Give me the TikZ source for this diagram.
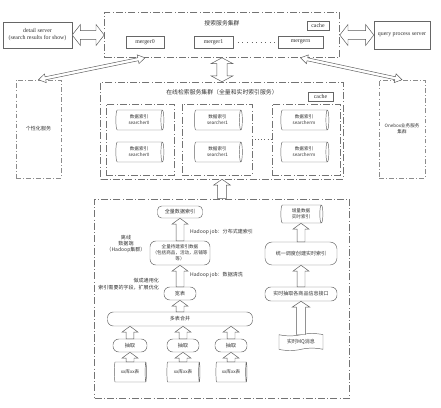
\documentclass[tikz,border=0pt]{standalone}
\usepackage{fontspec}
\usepackage{tikz}
\usetikzlibrary{shapes.geometric,shapes.symbols,calc}
\setmainfont{Liberation Serif}
\newfontfamily\cjk{Noto Sans CJK SC}
\newlength\pxu
\setlength\pxu{0.03cm}
\newcommand\cnfont{\cjk\fontsize{4.3}{5.4}\selectfont}
\newcommand\cnsmall{\cjk\fontsize{3.9}{5}\selectfont}
\newcommand\cnbig{\cjk\fontsize{5}{6}\selectfont}
\newcommand\enfont{\fontsize{5}{6}\selectfont}

\begin{document}
\begin{tikzpicture}[x=0.03cm, y=-0.03cm, text=black!80,
  box/.style={draw=black!60, fill=white, line width=0.4pt, inner sep=0pt, align=center},
  rbox/.style={box, rounded corners=3.5pt},
  cluster/.style={draw=black!55, line width=0.5pt, dash pattern=on 6pt off 2pt on 0.6pt off 2pt, inner sep=0pt},
  side/.style={draw=black!45, line width=0.5pt, dash pattern=on 4pt off 2pt on 0.6pt off 2pt, inner sep=0pt, align=center},
  dbstore/.style={box, cylinder, shape aspect=0.3},
  msg/.style={box, tape, tape bend height=2pt},
  arrowshaft/.store in=\arrS, arrowhead/.store in=\arrW, arrowlen/.store in=\arrL,
  arrowshaft=3.4pt, arrowhead=6.8pt, arrowlen=5pt,
  fat/.style={draw=black!65, fill=white, line width=0.4pt,
    to path={let \p1=(\tikztostart), \p2=(\tikztotarget),
      \n1={atan2(\y2-\y1,\x2-\x1)}, \n2={veclen(\x2-\x1,\y2-\y1)} in
      [shift={(\p1)}, rotate=\n1]
      (0pt,-\arrS) -- ({\n2*1pt-\arrL},-\arrS) -- ({\n2*1pt-\arrL},-\arrW) -- ({\n2*1pt},0pt)
      -- ({\n2*1pt-\arrL},\arrW) -- ({\n2*1pt-\arrL},\arrS) -- (0pt,\arrS) -- cycle}},
  fatboth/.style={draw=black!65, fill=white, line width=0.4pt,
    to path={let \p1=(\tikztostart), \p2=(\tikztotarget),
      \n1={atan2(\y2-\y1,\x2-\x1)}, \n2={veclen(\x2-\x1,\y2-\y1)} in
      [shift={(\p1)}, rotate=\n1]
      (0pt,0pt) -- (\arrL,\arrW) -- (\arrL,\arrS) -- ({\n2*1pt-\arrL},\arrS) -- ({\n2*1pt-\arrL},\arrW)
      -- ({\n2*1pt},0pt) -- ({\n2*1pt-\arrL},-\arrW) -- ({\n2*1pt-\arrL},-\arrS) -- (\arrL,-\arrS)
      -- (\arrL,-\arrW) -- cycle}}]
\useasboundingbox (0,0) rectangle (441,407);
  % Search Service Cluster
  \node[cluster, minimum width=235\pxu, minimum height=45\pxu] (topc) at (222,35) {};
  \node[font=\cnbig] (toptitle) at (222,23) {搜索服务集群};
  \node[box, font=\enfont, minimum width=22\pxu, minimum height=9\pxu] (cache1) at (318,25.5) {cache};
  \node[box, font=\enfont, minimum width=38\pxu, minimum height=12\pxu] (merger0) at (145,42) {merger0};
  \node[box, font=\enfont, minimum width=39\pxu, minimum height=12\pxu] (merger1) at (213.5,42) {merger1};
  \node[box, font=\enfont, minimum width=45\pxu, minimum height=12\pxu] (mergern) at (300.5,42) {mergern};
  \draw[black!60, line width=0.7pt, dash pattern=on 0.7pt off 3.2pt] (merger1.east) -- (mergern.west);
  % Outside Servers
  \node[box, font=\enfont, minimum width=69\pxu, minimum height=26\pxu] (detail) at (37.5,35) {detail server\\(search results for show)};
  \node[box, font=\enfont, minimum width=56\pxu, minimum height=28\pxu] (query) at (402,35) {query process server};
  \node[side, font=\cnfont, minimum width=45\pxu, minimum height=98\pxu] (personal) at (38.5,129) {个性化服务};
  \node[side, font=\cnsmall, minimum width=46\pxu, minimum height=98\pxu] (onebox) at (402,129) {Onebox业务服务\\集群};
  % Arrows to Outside Servers
  \draw[fatboth, arrowshaft=3.8pt, arrowhead=9pt, arrowlen=7pt] (detail.east) to (topc.west);
  \draw[fatboth, arrowshaft=3.8pt, arrowhead=9pt, arrowlen=7pt] (topc.east) to (query.west);
  \coordinate (foot0) at (topc.south -| merger0.south);
  \coordinate (footn) at (topc.south -| mergern.south);
  \draw[fatboth, arrowshaft=1.3pt, arrowhead=3.8pt, arrowlen=6pt] (personal.north) to (foot0);
  \draw[fatboth, arrowshaft=1.3pt, arrowhead=3.8pt, arrowlen=6pt] (onebox.north) to (footn);
  % Online Search Cluster
  \node[cluster, minimum width=243\pxu, minimum height=97\pxu] (onlinec) at (222,130.5) {};
  \node[font=\cnbig] (onlinetitle) at (222,92) {在线检索服务集群（全量和实时索引服务）};
  \node[box, font=\enfont, minimum width=25\pxu, minimum height=9\pxu] (cache2) at (320.5,96.5) {cache};
  \node[cluster, minimum width=68\pxu, minimum height=71\pxu] (group0) at (140,139.5) {};
  \node[cluster, minimum width=70\pxu, minimum height=71\pxu] (group1) at (217,139.5) {};
  \node[cluster, minimum width=68\pxu, minimum height=71\pxu] (groupm) at (306,139.5) {};
  \draw[black!60, line width=0.6pt, dash pattern=on 0.6pt off 2pt] (group1.east) -- (groupm.west);
  \node[dbstore, font=\cnsmall, minimum height=48\pxu, minimum width=20\pxu] (idx0) at (139,120) {数据索引\\searcher0};
  \node[dbstore, font=\cnsmall, minimum height=48\pxu, minimum width=20\pxu] (idx1) at (217.5,120) {数据索引\\searcher1};
  \node[dbstore, font=\cnsmall, minimum height=48\pxu, minimum width=20\pxu] (idxm) at (304,120) {数据索引\\searcherm};
  \node[dbstore, font=\cnsmall, minimum height=48\pxu, minimum width=20\pxu] (rep0) at (139,152) {数据索引\\searcher0};
  \node[dbstore, font=\cnsmall, minimum height=48\pxu, minimum width=20\pxu] (rep1) at (217.5,152) {数据索引\\searcher1};
  \node[dbstore, font=\cnsmall, minimum height=48\pxu, minimum width=20\pxu] (repm) at (304,152) {数据索引\\searcherm};
  \draw[fatboth, arrowshaft=4.3pt, arrowhead=9.4pt, arrowlen=5pt] (onlinec.north) to (topc.south);
  % Offline Data Cluster
  \node[cluster, minimum width=255\pxu, minimum height=199\pxu] (offc) at (222,298.5) {};
  \node[font=\cnfont, align=center] (offtitle) at (126,244) {离线\\数据端\\（Hadoop集群）};
  \draw[fat, arrowshaft=3.8pt, arrowhead=7.2pt] (offc.north) to (onlinec.south);
  % Full Index Chain
  \node[rbox, font=\cnfont, minimum width=45\pxu, minimum height=12\pxu] (fullidx) at (180,212) {全量数据索引};
  \node[rbox, rounded corners=5pt, font=\cnsmall, minimum width=60\pxu, minimum height=24\pxu] (fulldata) at (180,253) {全量待建索引数据\\（包括商品，活动，店铺等\\等）};
  \node[rbox, rounded corners=5pt, font=\cnfont, minimum width=32\pxu, minimum height=13\pxu] (widetab) at (180,293.5) {宽表};
  \node[rbox, rounded corners=5pt, font=\cnfont, minimum width=145\pxu, minimum height=14\pxu] (merge) at (180,319) {多表合并};
  \node[font=\cnfont, anchor=west] (job1) at (186,232) {Hadoop job：分布式建索引};
  \node[font=\cnfont, anchor=west] (job2) at (186,275) {Hadoop job：数据清洗};
  \node[font=\cnfont, anchor=east, align=right] (widenote) at (163,284) {做成通用化\\索引需要的字段，扩展优化};
  \draw[fat] (fulldata.north) to (fullidx.south);
  \draw[fat] (widetab.north) to (fulldata.south);
  \draw[fat] (merge.north) to (widetab.south);
  % Source Tables
  \node[rbox, rounded corners=5pt, font=\cnfont, minimum width=34\pxu, minimum height=13\pxu] (extract0) at (130,345.5) {抽取};
  \node[rbox, rounded corners=5pt, font=\cnfont, minimum width=32\pxu, minimum height=13\pxu] (extract1) at (183,345.5) {抽取};
  \node[rbox, rounded corners=5pt, font=\cnfont, minimum width=32\pxu, minimum height=13\pxu] (extract2) at (231,345.5) {抽取};
  \node[dbstore, font=\cnsmall, minimum height=32\pxu, minimum width=20\pxu] (table0) at (130,372) {xx库xx表};
  \node[dbstore, font=\cnsmall, minimum height=33\pxu, minimum width=20\pxu] (table1) at (183,372) {xx库xx表};
  \node[dbstore, font=\cnsmall, minimum height=31\pxu, minimum width=20\pxu] (table2) at (231,372) {xx库xx表};
  \coordinate (mfoot0) at (merge.south -| extract0.north);
  \coordinate (mfoot1) at (merge.south -| extract1.north);
  \coordinate (mfoot2) at (merge.south -| extract2.north);
  \draw[fat] (extract0.north) to (mfoot0);
  \draw[fat] (extract1.north) to (mfoot1);
  \draw[fat] (extract2.north) to (mfoot2);
  \draw[fat] (table0.north) to (extract0.south);
  \draw[fat] (table1.north) to (extract1.south);
  \draw[fat] (table2.north) to (extract2.south);
  % Realtime Index Chain
  \node[dbstore, font=\cnsmall, minimum height=42\pxu, minimum width=18\pxu] (incidx) at (301,214) {增量数据\\实时索引};
  \node[rbox, rounded corners=6pt, font=\cnfont, minimum width=72\pxu, minimum height=23\pxu] (sched) at (301,253.5) {统一调度创建实时索引};
  \node[rbox, rounded corners=5pt, font=\cnfont, minimum width=72\pxu, minimum height=14\pxu] (iface) at (301,294) {实时抽取各商品信息接口};
  \node[msg, font=\cnfont, minimum width=44\pxu, minimum height=17\pxu] (mq) at (301,342) {实时MQ消息};
  \draw[fat] (sched.north) to (incidx.south);
  \draw[fat] (iface.north) to (sched.south);
  \draw[fat, arrowshaft=4pt, arrowhead=7.5pt] (mq.north) to (iface.south);
\end{tikzpicture}
\end{document}
